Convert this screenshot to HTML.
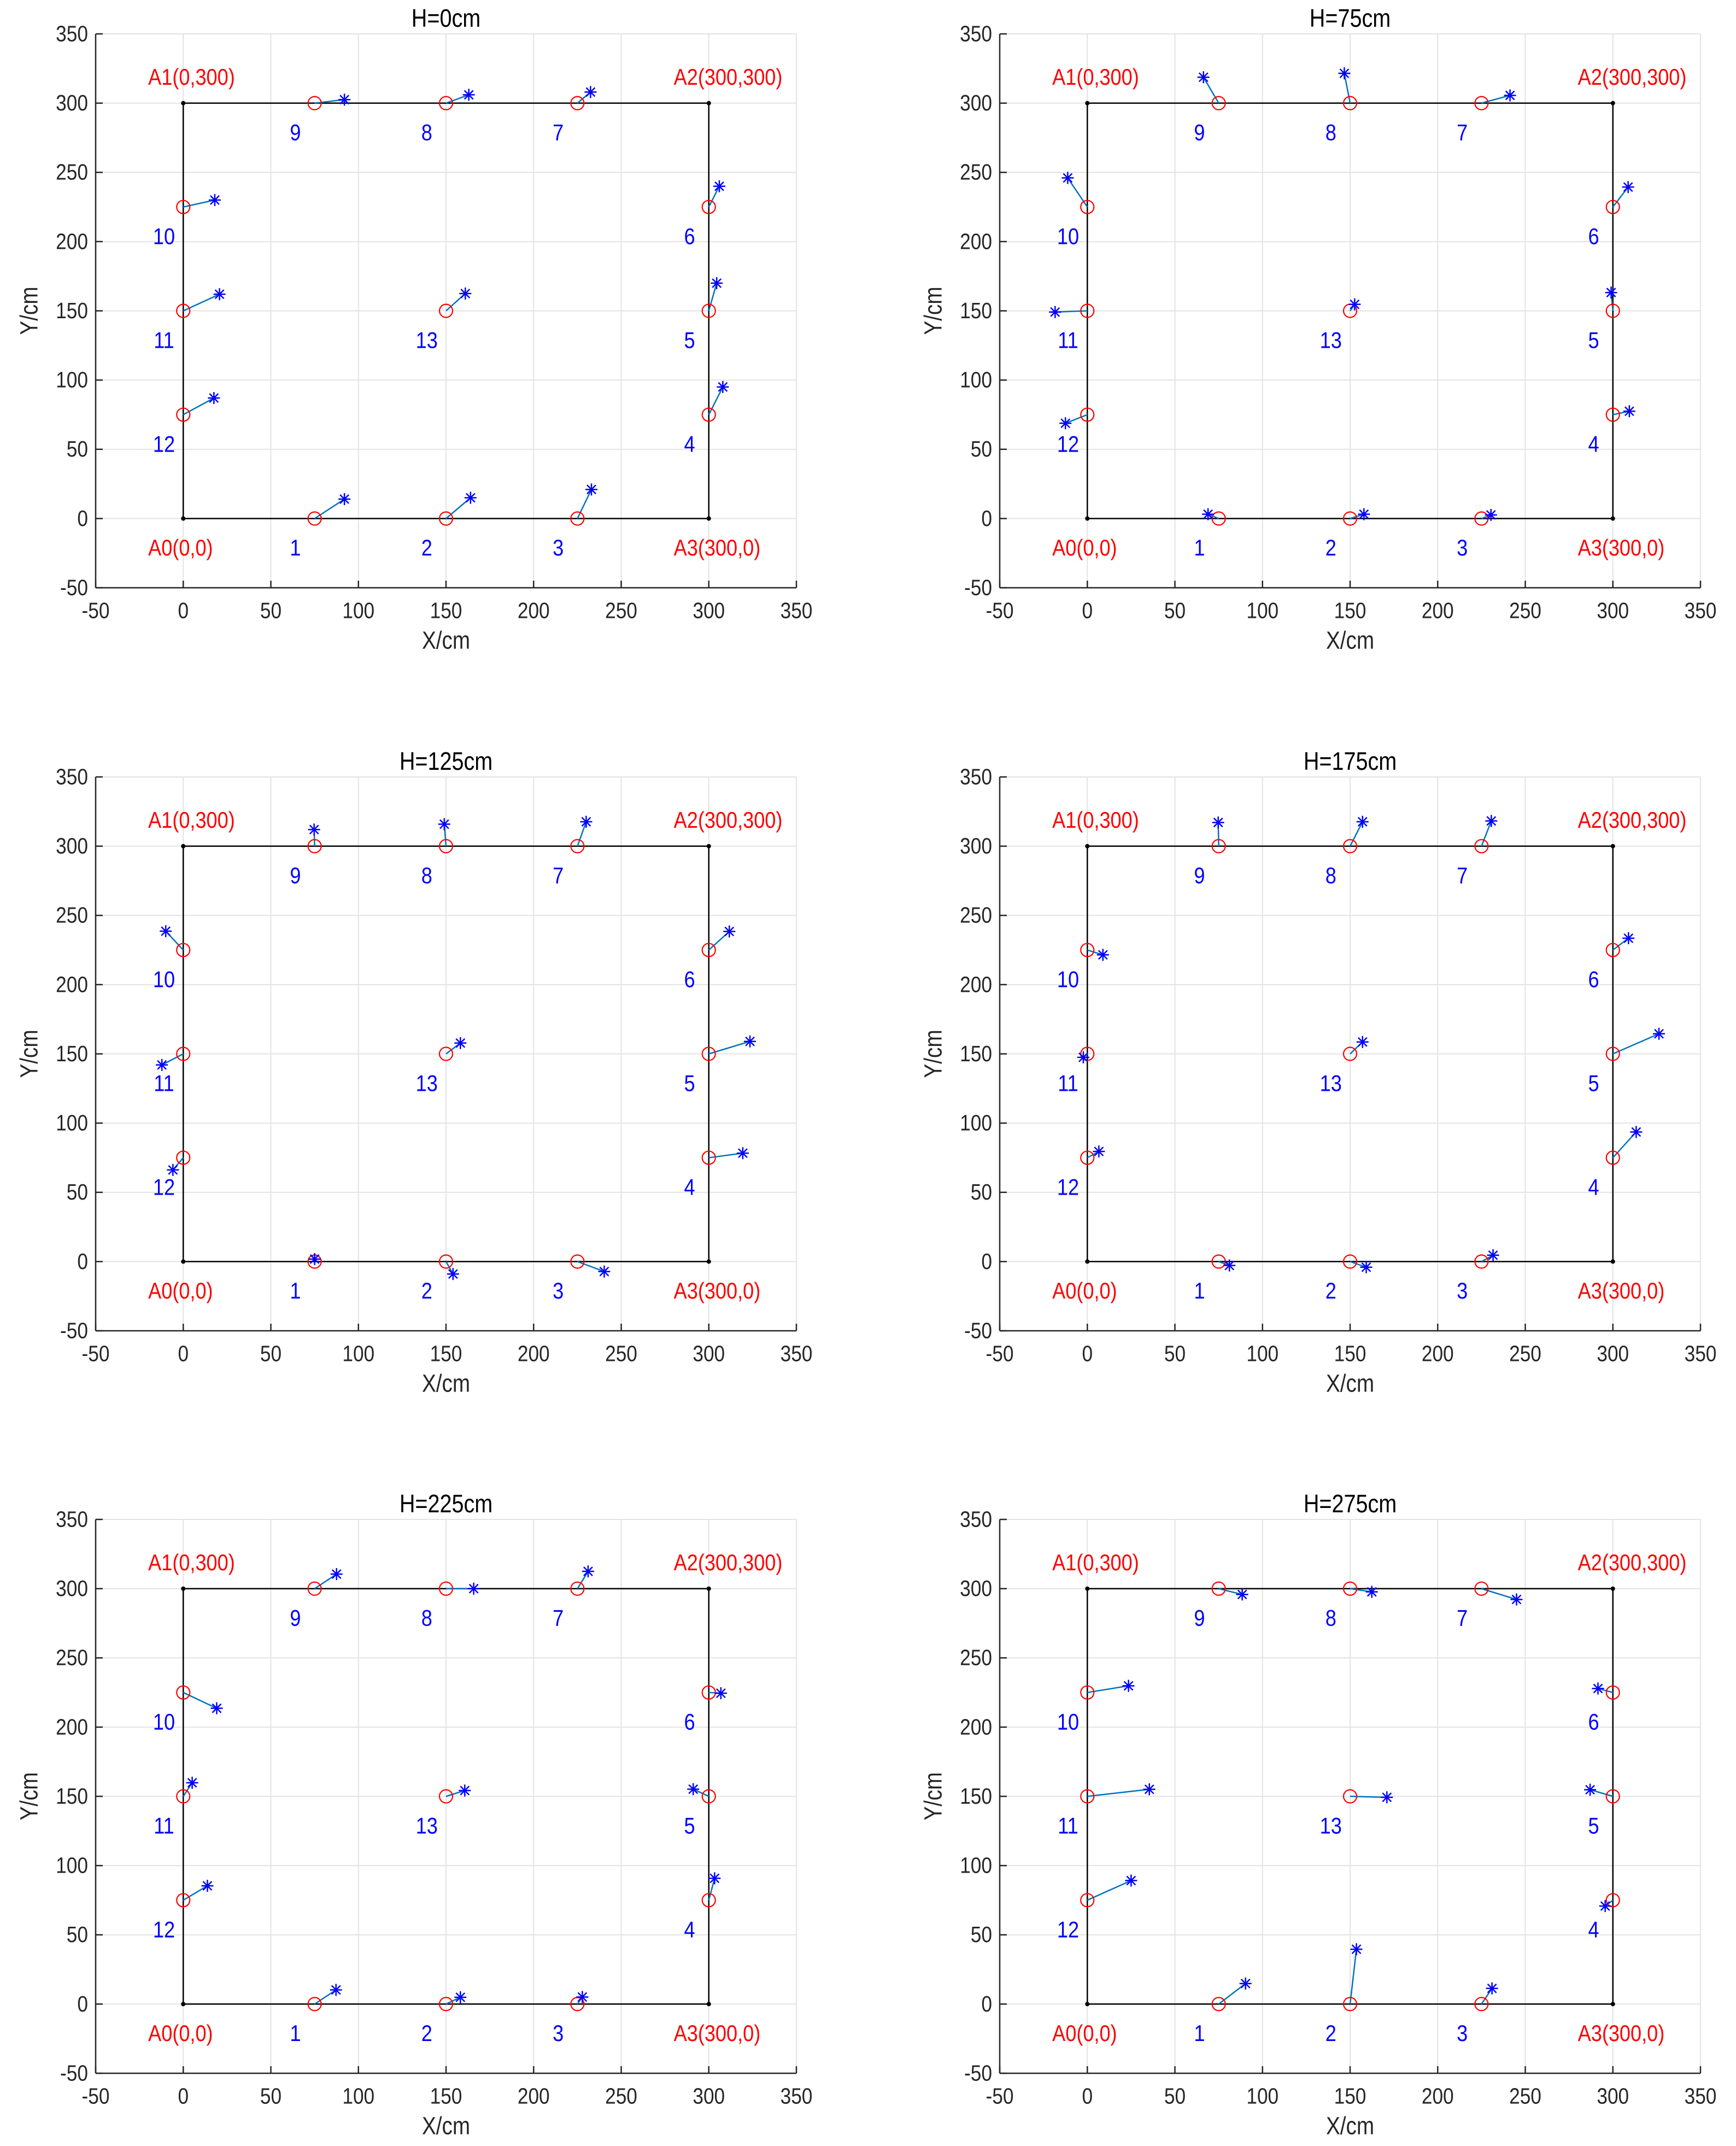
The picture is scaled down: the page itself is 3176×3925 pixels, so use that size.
<!DOCTYPE html>
<html><head><meta charset="utf-8">
<style>
html,body{margin:0;padding:0;background:#fff;}
svg{display:block;}
text{font-family:"Liberation Sans",Arial,sans-serif;}
</style></head>
<body>
<svg id="fig" width="3176" height="3925" viewBox="0 0 3176 3925" xmlns="http://www.w3.org/2000/svg"></svg>
<script>
// ---- data ----
const titles = ["H=0cm","H=75cm","H=125cm","H=175cm","H=225cm","H=275cm"];
const refX = [75,150,225,300,300,300,225,150,75,0,0,0,150];
const refY = [0,0,0,75,150,225,300,300,300,225,150,75,150];
const pointLabels = ["1","2","3","4","5","6","7","8","9","10","11","12","13"];
const tickValues = [-50,0,50,100,150,200,250,300,350];
const tickLabels = ["-50","0","50","100","150","200","250","300","350"];
const cornerLabels = ["A0(0,0)","A1(0,300)","A2(300,300)","A3(300,0)"];
const cornerX = [0,0,300,300];
const cornerY = [0,300,300,0];
const measX_H0 = [92,164,233,308,304.5,306,232.5,163,92,18,20.7,17.5,161];
const measY_H0 = [14,15,21,95,170,240,308,306,302.5,230,162,87,162.5];
const measX_H75 = [68.9,157.9,230.4,309.4,299,308.7,241.3,146.7,66.3,-11.2,-18.4,-12.5,152.6];
const measY_H75 = [3.1,3.1,2.6,77.5,163.2,239.4,305.6,321.5,318.7,246,149.1,68.8,154.7];
const measX_H125 = [75,154,240.3,319.4,323.5,311.7,230,149,74.7,-10,-12.2,-5.9,158.2];
const measY_H125 = [1.8,-9,-7.2,78.3,159,238.4,317.6,315.9,312,238.6,142,66.2,157.8];
const measX_H175 = [81.1,159.2,231.6,313.3,326.3,308.9,230.6,157.1,74.7,8.9,-2.3,6.6,157.1];
const measY_H175 = [-2.8,-4.1,4.6,93.6,164.5,233.5,318.2,317.6,317.1,221.5,147.5,79.5,158.6];
const measX_H225 = [87.2,158.2,227.8,303.3,291.1,306.9,231.1,165.8,87.5,19.1,5.1,13.8,160.7];
const measY_H225 = [10.2,4.9,5.1,90.8,155.2,224.5,312.5,300,310.5,213.6,159.8,85.4,154.2];
const measX_H275 = [90.3,153.6,231,295.6,287,291.5,245,162.4,88.4,23.5,35.4,25,171];
const measY_H275 = [14.8,39.6,11.3,70.8,154.8,227.9,292.2,297.7,295.8,229.8,155.1,89.2,149.3];
const allMeasX = [measX_H0,measX_H75,measX_H125,measX_H175,measX_H225,measX_H275];
const allMeasY = [measY_H0,measY_H75,measY_H125,measY_H175,measY_H225,measY_H275];

// ---- layout ----
const NS = "http://www.w3.org/2000/svg";
const svg = document.getElementById('fig');
const colLeft = [175,1829], rowTop = [62,1421,2779];
const PW = 1282, PH = 1013;
const SQ = 0.86;
function mk(tag, attrs, parent){
  const e = document.createElementNS(NS, tag);
  for (const k in attrs) e.setAttribute(k, attrs[k]);
  parent.appendChild(e);
  return e;
}
function txt(parent, x, y, s, size, fill, anchor, rot){
  const t = mk('text', {x:0, y:0, 'font-size':size, fill:fill, 'text-anchor':anchor||'middle', 'dominant-baseline':'central',
    transform:'translate('+x+' '+y+')'+(rot?' rotate('+rot+')':'')+' scale('+SQ+' 1)'}, parent);
  t.textContent = s;
  return t;
}

for (let p = 0; p < 6; p++) {
  const L = colLeft[p % 2], T = rowTop[Math.floor(p / 2)];
  const sx = v => L + (v + 50) / 400 * PW;
  const sy = v => T + (350 - v) / 400 * PH;
  const g = mk('g', {}, svg);
  
  

  const grid = mk('g', {stroke:'#e3e3e3', 'stroke-width':2}, g);
  
  
  tickValues.forEach(v => {
    mk('line', {x1:sx(v), x2:sx(v), y1:T, y2:T+PH}, grid);
    mk('line', {x1:L, x2:L+PW, y1:sy(v), y2:sy(v)}, grid);
  });

  const ax = mk('g', {stroke:'#262626', 'stroke-width':2.5, fill:'none'}, g);
  
  
  mk('line', {x1:L, x2:L, y1:T, y2:T+PH}, ax);
  mk('line', {x1:L, x2:L+PW, y1:T+PH, y2:T+PH}, ax);
  tickValues.forEach((v, i) => {
    mk('line', {x1:sx(v), x2:sx(v), y1:T+PH, y2:T+PH-13}, ax);
    mk('line', {x1:L, x2:L+13, y1:sy(v), y2:sy(v)}, ax);
    const xl = txt(g, sx(v), T+PH+42, tickLabels[i], 41, '#262626');
    
    
    const yl = txt(g, L-14, sy(v), tickLabels[i], 41, '#262626', 'end');
    
    
  });
  const xt = txt(g, L+PW/2, T+PH+96, 'X/cm', 45, '#262626');
  
  
  const yt = txt(g, L-122, T+PH/2, 'Y/cm', 45, '#262626', 'middle', -90);
  
  
  const tt = txt(g, L+PW/2, T-28, titles[p], 46, '#000', 'middle');
  
  

  const fr = mk('polygon', {points:[0,1,2,3].map(i => sx(cornerX[i])+','+sy(cornerY[i])).join(' '), fill:'none', stroke:'#000', 'stroke-width':2.5}, g);
  
  
  for (let i = 0; i < 4; i++) {
    const d = mk('circle', {cx:sx(cornerX[i]), cy:sy(cornerY[i]), r:4, fill:'#000'}, g);
    
    
    const lx = cornerX[i] - 20;
    const ly = cornerY[i] === 0 ? -21.5 : 318.5;
    const a = txt(g, sx(lx), sy(ly), cornerLabels[i], 42, '#ff0000', 'start');
    
    
  }

  const mx = allMeasX[p], my = allMeasY[p];
  for (let i = 0; i < refX.length; i++) {
    const x0 = sx(refX[i]), y0 = sy(refY[i]), x1 = sx(mx[i]), y1 = sy(my[i]);
    const ln = mk('line', {x1:x0, y1:y0, x2:x1, y2:y1, stroke:'#0072BD', 'stroke-width':2.5}, g);
    
    
    const c = mk('ellipse', {cx:x0, cy:y0, rx:12, ry:12, fill:'none', stroke:'#ff0000', 'stroke-width':2.2}, g);
    
    
    const st = mk('path', {d:'M'+(x1-11)+' '+y1+'H'+(x1+11)+'M'+x1+' '+(y1-11)+'V'+(y1+11)+
      'M'+(x1-8)+' '+(y1-8)+'L'+(x1+8)+' '+(y1+8)+'M'+(x1-8)+' '+(y1+8)+'L'+(x1+8)+' '+(y1-8),
      stroke:'#0000ff', 'stroke-width':2.5, fill:'none'}, g);
    
    
    const lb = txt(g, sx(refX[i]-11), sy(refY[i]-21.5), pointLabels[i], 42, '#0000ff');
    
    
  }
}
</script>
</body></html>
